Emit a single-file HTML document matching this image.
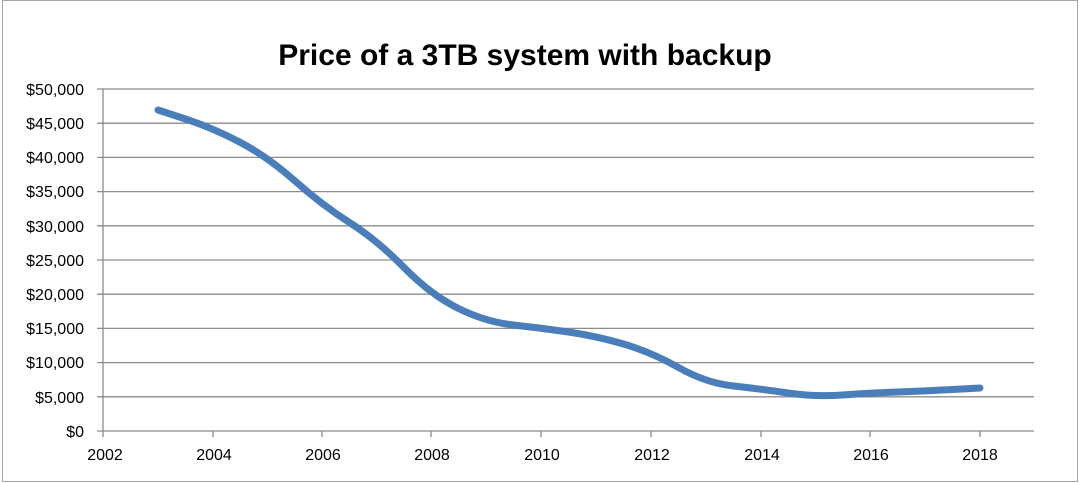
<!DOCTYPE html>
<html><head><style>
body{margin:0;background:#fff;}
svg{display:block;font-family:"Liberation Sans",Calibri,sans-serif;}
</style></head><body>
<svg width="1079" height="483" viewBox="0 0 1079 483">
<rect x="2.5" y="0.5" width="1075" height="481" fill="#fff" stroke="#a6a6a6"/>
<text x="525" y="65" text-anchor="middle" font-size="30" font-weight="bold" fill="#000">Price of a 3TB system with backup</text>
<g stroke="#8c8c8c" stroke-width="1.3">
<line x1="97" y1="89" x2="1034" y2="89"/>
<line x1="97" y1="123.2" x2="1034" y2="123.2"/>
<line x1="97" y1="157.4" x2="1034" y2="157.4"/>
<line x1="97" y1="191.6" x2="1034" y2="191.6"/>
<line x1="97" y1="225.8" x2="1034" y2="225.8"/>
<line x1="97" y1="260" x2="1034" y2="260"/>
<line x1="97" y1="294.2" x2="1034" y2="294.2"/>
<line x1="97" y1="328.4" x2="1034" y2="328.4"/>
<line x1="97" y1="362.6" x2="1034" y2="362.6"/>
<line x1="97" y1="396.8" x2="1034" y2="396.8"/>
<line x1="97" y1="431" x2="1034" y2="431"/>
<line x1="103" y1="89" x2="103" y2="437"/>
<line x1="213" y1="431" x2="213" y2="437"/>
<line x1="322" y1="431" x2="322" y2="437"/>
<line x1="431" y1="431" x2="431" y2="437"/>
<line x1="541" y1="431" x2="541" y2="437"/>
<line x1="651" y1="431" x2="651" y2="437"/>
<line x1="761" y1="431" x2="761" y2="437"/>
<line x1="870" y1="431" x2="870" y2="437"/>
<line x1="980" y1="431" x2="980" y2="437"/>
</g>
<g font-size="16" fill="#000" text-anchor="end">
<text x="84" y="95">$50,000</text>
<text x="84" y="129">$45,000</text>
<text x="84" y="163">$40,000</text>
<text x="84" y="197">$35,000</text>
<text x="84" y="232">$30,000</text>
<text x="84" y="266">$25,000</text>
<text x="84" y="300">$20,000</text>
<text x="84" y="334">$15,000</text>
<text x="84" y="368">$10,000</text>
<text x="84" y="403">$5,000</text>
<text x="84" y="437">$0</text>
</g>
<g font-size="16" fill="#000" text-anchor="middle">
<text x="105" y="460">2002</text>
<text x="214" y="460">2004</text>
<text x="323" y="460">2006</text>
<text x="432" y="460">2008</text>
<text x="542" y="460">2010</text>
<text x="652" y="460">2012</text>
<text x="762" y="460">2014</text>
<text x="871" y="460">2016</text>
<text x="980" y="460">2018</text>
</g>
<path fill="none" stroke="#4a7ebb" stroke-width="7" stroke-linecap="round" stroke-linejoin="round" d="M158,110 L185.5,119 Q213,128 240.5,142.5 Q268,157 295,181 Q322,205 349.5,222.5 Q377,240 404,267.5 Q431,295 458.5,308.5 Q486,322 513.5,325 Q541,328 568.5,332 Q596,336 623.5,344 Q651,352 678.5,367.5 Q706,383 733.5,386 Q761,389 788,393 Q815,397 842.5,395 Q870,393 897.5,392 Q925,391 952.5,389.5 L980,388"/>
</svg>
</body></html>
